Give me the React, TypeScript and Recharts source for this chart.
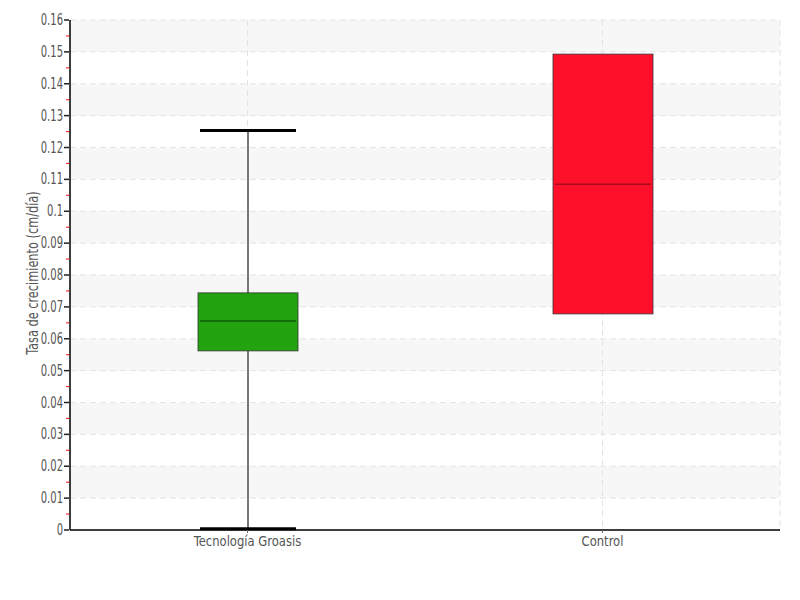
import React from 'react';
import { ComposedChart, Bar, XAxis, YAxis, CartesianGrid } from 'recharts';

const categories = ['Tecnología Groasis', 'Control'];
const whiskerLow = [0.0004, 0.0678];
const q1 = [0.0562, 0.0678];
const median = [0.0656, 0.1085];
const q3 = [0.0744, 0.1493];
const whiskerHigh = [0.1253, 0.1493];
const fills = ['#22a30f', '#ff102a'];
const medianColors = ['#135c0a', '#a80b1d'];

const yTicks = [
  0, 0.005, 0.01, 0.015, 0.02, 0.025, 0.03, 0.035, 0.04, 0.045, 0.05, 0.055, 0.06, 0.065,
  0.07, 0.075, 0.08, 0.085, 0.09, 0.095, 0.1, 0.105, 0.11, 0.115, 0.12, 0.125, 0.13,
  0.135, 0.14, 0.145, 0.15, 0.155, 0.16,
];
const majorTicks = [0, 0.01, 0.02, 0.03, 0.04, 0.05, 0.06, 0.07, 0.08, 0.09, 0.1, 0.11, 0.12, 0.13, 0.14, 0.15, 0.16];

const data = categories.map((name, i) => ({
  name,
  range: [whiskerLow[i], whiskerHigh[i]],
  low: whiskerLow[i],
  q1: q1[i],
  median: median[i],
  q3: q3[i],
  high: whiskerHigh[i],
  fill: fills[i],
  medianColor: medianColors[i],
}));

const FONT = '"DejaVu Sans Condensed", "DejaVu Sans", sans-serif';
const SQUEEZE = 0.74;

const BoxShape = (props: any) => {
  const { x, y, width, height, payload } = props;
  const top = Math.min(y, y + height);
  const bottom = Math.max(y, y + height);
  const k = (bottom - top) / (payload.high - payload.low);
  const toPx = (v: number) => bottom - (v - payload.low) * k;
  const cx = x + width / 2;
  const capHalf = width * 0.48;
  const yHigh = toPx(payload.high);
  const yLow = toPx(payload.low);
  const yQ1 = toPx(payload.q1);
  const yQ3 = toPx(payload.q3);
  const yMed = toPx(payload.median);
  const hasWhiskers = payload.high > payload.q3 || payload.low < payload.q1;
  return (
    <g>
      {hasWhiskers && (
        <>
          <line x1={cx} x2={cx} y1={yHigh} y2={yLow} stroke="#777" strokeWidth={2} />
          <line x1={cx - capHalf} x2={cx + capHalf} y1={yHigh} y2={yHigh} stroke="#000" strokeWidth={3} />
          <line x1={cx - capHalf} x2={cx + capHalf} y1={yLow} y2={yLow} stroke="#000" strokeWidth={3} />
        </>
      )}
      <rect x={x} y={yQ3} width={width} height={yQ1 - yQ3} fill={payload.fill} stroke="#333" strokeOpacity={0.8} strokeWidth={1} />
      <line x1={x + 2} x2={x + width - 2} y1={yMed} y2={yMed} stroke={payload.medianColor} strokeWidth={1.5} />
    </g>
  );
};

const YTick = (props: any) => {
  const { x, y, payload } = props;
  const v = payload.value;
  const major = Math.round(v * 1000) % 10 === 0;
  return (
    <g>
      {major ? (
        <line x1={x + 2} x2={x + 7} y1={y} y2={y} stroke="#222" strokeWidth={1.5} />
      ) : (
        <line x1={x + 4} x2={x + 7} y1={y} y2={y} stroke="#ff3030" strokeWidth={1.2} />
      )}
      {major && (
        <text transform={`translate(${x + 1}, ${y}) scale(${SQUEEZE}, 1)`} dy={5} textAnchor="end" fill="#555" fontSize={15} fontFamily={FONT}>
          {String(v)}
        </text>
      )}
    </g>
  );
};

const XTick = (props: any) => {
  const { x, y, payload } = props;
  return (
    <text transform={`translate(${x}, ${y}) scale(0.92, 1)`} dy={11} textAnchor="middle" fill="#555" fontSize={14} fontFamily={FONT}>
      {payload.value}
    </text>
  );
};

const YLabel = (props: any) => {
  const { viewBox } = props;
  const cx = viewBox.x + 33;
  const cy = viewBox.y + viewBox.height / 2 - 2;
  return (
    <text transform={`translate(${cx}, ${cy}) rotate(-90) scale(0.84, 1)`} textAnchor="middle" dy={5} fill="#555" fontSize={15} fontFamily={FONT}>
      Tasa de crecimiento (cm/día)
    </text>
  );
};

export default function App() {
  return (
    <div style={{ position: 'absolute', left: 0, top: 0, background: '#fff' }}>
      <ComposedChart width={800} height={600} data={data} margin={{ top: 20, right: 20, bottom: 40, left: 0 }}>
        <CartesianGrid
          horizontalValues={majorTicks}
          strokeDasharray="6 4"
          stroke="#e4e4e4"
          horizontalFill={['#f7f7f7', '#ffffff']}
        />
        <XAxis
          dataKey="name"
          height={30}
          axisLine={{ stroke: '#000', strokeWidth: 1.5 }}
          tickLine={{ stroke: '#666' }}
          tickSize={3}
          tick={<XTick />}
          interval={0}
        />
        <YAxis
          domain={[0, 0.16]}
          ticks={yTicks}
          interval={0}
          width={70}
          axisLine={{ stroke: '#000', strokeWidth: 1.5 }}
          tickLine={false}
          tick={<YTick />}
          label={<YLabel />}
        />
        <Bar dataKey="range" barSize={100} shape={<BoxShape />} isAnimationActive={false} />
      </ComposedChart>
    </div>
  );
}
